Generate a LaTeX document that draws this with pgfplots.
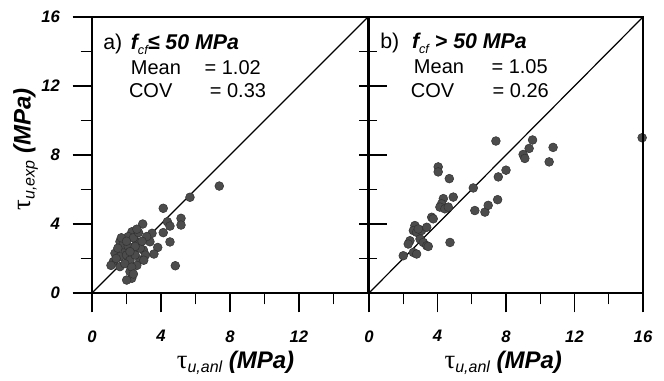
\documentclass[border=0pt]{standalone}
\usepackage{pgfplots}
\pgfplotsset{compat=1.18}
\usepackage{fontspec}
\setmainfont{Liberation Sans}
\newfontfamily\greekfont{Liberation Serif}

\pgfplotstableread{
x y
7.38 6.20
5.68 5.55
4.13 4.91
2.94 4.00
4.37 4.13
4.52 3.88
5.16 4.33
5.16 3.94
4.13 3.50
3.48 3.46
3.36 2.97
3.81 2.64
4.52 2.96
3.59 2.26
4.83 1.58
2.32 3.55
1.62 2.98
1.33 2.30
1.24 1.82
1.62 1.53
2.20 1.24
2.30 0.85
2.01 0.75
2.78 1.91
2.98 2.49
2.39 2.49
1.91 2.49
2.10 3.27
2.59 2.98
3.17 3.27
1.62 2.11
1.80 2.80
2.00 2.20
2.20 1.90
2.50 2.20
2.60 1.60
1.90 1.70
2.40 3.20
2.80 2.60
1.50 2.60
2.10 2.70
2.70 3.50
3.10 2.20
2.30 1.50
1.70 3.20
2.50 2.70
2.00 3.00
2.90 3.00
2.20 2.40
1.40 2.00
3.00 1.90
2.60 3.70
1.10 1.60
2.40 1.10
}\leftdata

\pgfplotstableread{
x y
15.95 9.00
7.41 8.81
9.55 8.87
9.35 8.38
10.75 8.44
9.00 8.03
9.10 7.80
10.52 7.60
8.00 7.12
7.55 6.73
4.04 7.31
4.04 7.02
4.69 6.63
6.09 6.09
4.92 5.56
4.34 5.47
4.24 5.17
4.14 4.98
4.43 4.88
4.63 4.98
6.18 4.78
6.77 4.69
6.96 5.08
7.51 5.41
3.66 4.39
3.75 4.30
2.68 3.91
2.59 3.62
2.78 3.52
3.07 3.62
2.39 3.03
2.98 3.13
3.17 2.93
3.37 2.74
2.29 2.84
2.59 2.35
4.73 2.93
2.00 2.16
2.78 2.26
2.88 3.71
3.37 3.81
3.46 2.70
}\rightdata

\newcommand{\tlab}[1]{{\greekfont\fontsize{20}{20}\selectfont τ}\raisebox{-0.3em}{\fontsize{12}{12}\selectfont\itshape #1}\hspace{0.5em}{\fontsize{18}{18}\selectfont\bfseries\itshape (MPa)}}

\pgfplotsset{
  panel/.style={
    scale only axis, height=207pt,
    xmin=0, xmax=16, ymin=0, ymax=16,
    axis line style={line width=0.9pt},
    every tick/.style={black, line width=0.9pt},
    tick align=outside,
    major tick length=14.5pt, minor tick length=8.5pt,
    ticklabel style={font=\fontsize{12.5}{12.5}\selectfont\bfseries\itshape},
    /pgf/number format/assume math mode=true,
    clip=false,
  },
  pts/.style={only marks, mark=*, mark size=3.3pt,
    mark options={fill=black!70, draw=black!80, line width=0.4pt}},
  ytickonly/.style={
    scale only axis, height=207pt,
    xmin=0, xmax=16, ymin=0, ymax=16,
    hide x axis,
    axis line style={line width=0.9pt},
    every tick/.style={black, line width=0.9pt},
    ytick={0,4,8,12,16}, minor ytick={2,6,10,14},
    ytick pos=left, yticklabels={},
  },
}
\tikzset{
  txt/.style={anchor=base west, font=\fontsize{15}{15}\selectfont},
  head/.style={anchor=base west, font=\fontsize{16}{16}\selectfont},
}

\begin{document}
\begin{tikzpicture}
\useasboundingbox (-69pt,-66pt) rectangle (429pt,219.75pt);
% left panel
\begin{axis}[panel, name=L, at={(0,0)}, anchor=south west, width=207pt,
  xtick={0,4,8,12}, minor xtick={2,6,10,14},
  ytick={0,4,8,12,16}, minor ytick={2,6,10,14},
  xtick pos=left, ytick pos=left,
  xticklabel shift=10pt, yticklabel shift=6pt]
\addplot[pts] table {\leftdata};
\addplot[black, line width=0.9pt] coordinates {(0,0) (16,16)};
\node[head] at (rel axis cs:0.024,0.884)
  {a)\hspace{0.4em}{\bfseries\itshape f}\raisebox{-0.25em}{\fontsize{9.5}{9.5}\selectfont\itshape cf}{\bfseries\itshape ≤ 50 MPa}};
\node[txt] at (rel axis cs:0.124,0.79) {Mean};
\node[txt] at (rel axis cs:0.391,0.79) {= 1.02};
\node[txt] at (rel axis cs:0.117,0.71) {COV};
\node[txt] at (rel axis cs:0.41,0.71) {= 0.33};
\node[anchor=base] at ([yshift=-57pt]rel axis cs:0.52,0) {\tlab{u,anl}};
\node[rotate=90, anchor=south] at ([xshift=-37pt]rel axis cs:0,0.52) {\tlab{u,exp}};
\end{axis}
% right panel
\begin{axis}[panel, name=R, at={(207.75pt,0)}, anchor=south west, width=205.5pt,
  xtick={0,4,8,12,16}, minor xtick={2,6,10,14},
  ytick=\empty,
  xtick pos=left,
  xticklabel shift=10pt]
\addplot[pts] table {\rightdata};
\addplot[black, line width=0.9pt] coordinates {(0,0) (16,16)};
\node[head] at (rel axis cs:0.024,0.887)
  {b)\hspace{0.6em}{\bfseries\itshape f}\raisebox{-0.25em}{\fontsize{9.5}{9.5}\selectfont\itshape cf}{\bfseries\itshape\ > 50 MPa}};
\node[txt] at (rel axis cs:0.147,0.796) {Mean};
\node[txt] at (rel axis cs:0.43,0.796) {= 1.05};
\node[txt] at (rel axis cs:0.136,0.708) {COV};
\node[txt] at (rel axis cs:0.434,0.708) {= 0.26};
\node[anchor=base] at ([yshift=-57pt]rel axis cs:0.49,0) {\tlab{u,anl}};
\end{axis}
% right panel y ticks, inner part
\begin{axis}[ytickonly, at={(207.75pt,0)}, anchor=south west, width=205.5pt,
  tick align=inside, major tick length=13.5pt, minor tick length=6pt]
\end{axis}
% right panel y ticks, outer part
\begin{axis}[ytickonly, at={(207.75pt,0)}, anchor=south west, width=205.5pt,
  tick align=outside, major tick length=7.5pt, minor tick length=7.5pt]
\end{axis}
\end{tikzpicture}
\end{document}
